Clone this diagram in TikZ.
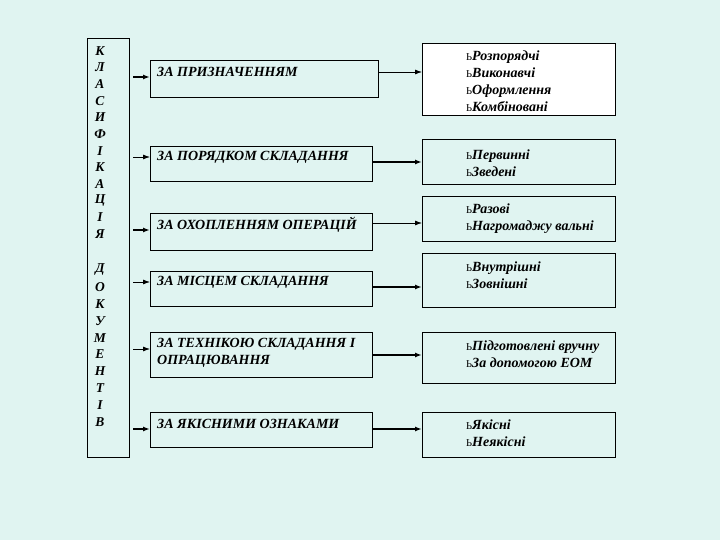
\documentclass[tikz,border=0pt]{standalone}
\usepackage{fontspec}
\setmainfont{Liberation Serif}
\usetikzlibrary{arrows.meta}
\definecolor{bgcol}{HTML}{E0F4F1}
\newcommand{\bul}{{\fontsize{10.5}{10}\selectfont\upshape\mdseries Ь}}
\begin{document}
\begin{tikzpicture}[x=1pt,y=-1pt,
    box/.style={draw, fill=bgcol, line width=.8pt, anchor=north west, inner sep=0pt},
    txt/.style={anchor=west, inner sep=0pt, font=\fontsize{14}{17}\selectfont\bfseries\itshape, align=left},
    letter/.style={inner sep=0pt, font=\fontsize{13.5}{14}\selectfont\bfseries\itshape},
    arr/.style={-{Latex[length=7pt,width=5pt]}, line width=.8pt},
    arrb/.style={-{Latex[length=7pt,width=5pt]}, line width=1.5pt}]
    \fill[bgcol] (0,0) rectangle (720,540);
    \useasboundingbox (0,0) rectangle (720,540);

%   left column
    \node[box, minimum width=42, minimum height=419] (kl) at (87,38) {};
    \foreach \ch [count=\i] in {К,Л,А,С,И,Ф,І,К,А,Ц,І,Я}
        \node[letter] (ka\i) at (100,{51+16.6*(\i-1)}) {\ch};
    \foreach \ch [count=\i] in {Д,О,К,У,М,Е,Н,Т,І,В}
        \node[letter] (do\i) at (100,{270+16.9*(\i-1)}) {\ch};

%   middle boxes
    \node[box, minimum width=228, minimum height=37] (m1) at (150,60) {};
    \node[box, minimum width=222, minimum height=35] (m2) at (150,146) {};
    \node[box, minimum width=222, minimum height=37] (m3) at (150,213) {};
    \node[box, minimum width=222, minimum height=35] (m4) at (150,271) {};
    \node[box, minimum width=222, minimum height=45] (m5) at (150,332) {};
    \node[box, minimum width=222, minimum height=35] (m6) at (150,412) {};

    \node[txt] (t1) at (157,72) {ЗА ПРИЗНАЧЕННЯМ};
    \node[txt] (t2) at (157,157) {ЗА ПОРЯДКОМ СКЛАДАННЯ};
    \node[txt] (t3) at (157,225) {ЗА ОХОПЛЕННЯМ ОПЕРАЦІЙ};
    \node[txt] (t4) at (157,282) {ЗА МІСЦЕМ СКЛАДАННЯ};
    \node[txt] (t5) at (157,352.5) {ЗА ТЕХНІКОЮ СКЛАДАННЯ І\\ОПРАЦЮВАННЯ};
    \node[txt] (t6) at (157,424) {ЗА ЯКІСНИМИ ОЗНАКАМИ};

%   right boxes
    \node[box, fill=white, minimum width=193, minimum height=72] (r1) at (422,43) {};
    \node[box, minimum width=193, minimum height=45] (r2) at (422,139) {};
    \node[box, minimum width=193, minimum height=45] (r3) at (422,196) {};
    \node[box, minimum width=193, minimum height=54] (r4) at (422,253) {};
    \node[box, minimum width=193, minimum height=51] (r5) at (422,332) {};
    \node[box, minimum width=193, minimum height=45] (r6) at (422,412) {};

    \node[txt] (s1) at (466,81) {\bul Розпорядчі\\\bul Виконавчі\\\bul Оформлення\\\bul Комбіновані};
    \node[txt] (s2) at (466,163) {\bul Первинні\\\bul Зведені};
    \node[txt] (s3) at (466,218.5) {\bul Разові\\\bul Нагромаджу вальні};
    \node[txt] (s4) at (466,275) {\bul Внутрішні\\\bul Зовнішні};
    \node[txt] (s5) at (466,354) {\bul Підготовлені вручну\\\bul За допомогою ЕОМ};
    \node[txt] (s6) at (466,433) {\bul Якісні\\\bul Неякісні};

%   arrows
    \coordinate (a1) at (133,77);
    \coordinate (a2) at (133,157);
    \coordinate (a3) at (133,230);
    \coordinate (a4) at (133,282);
    \coordinate (a5) at (133,349);
    \coordinate (a6) at (133,429);
    \draw[arrb] (a1) -- (a1 -| m1.west);
    \draw[arr] (a2) -- (a2 -| m2.west);
    \draw[arrb] (a3) -- (a3 -| m3.west);
    \draw[arr] (a4) -- (a4 -| m4.west);
    \draw[arr] (a5) -- (a5 -| m5.west);
    \draw[arrb] (a6) -- (a6 -| m6.west);

    \coordinate (b1) at (400,72);
    \coordinate (b2) at (400,162);
    \coordinate (b3) at (400,223);
    \coordinate (b4) at (400,287);
    \coordinate (b5) at (400,355);
    \coordinate (b6) at (400,429);
    \draw[arr] (b1 -| m1.east) -- (b1 -| r1.west);
    \draw[arrb] (b2 -| m2.east) -- (b2 -| r2.west);
    \draw[arr] (b3 -| m3.east) -- (b3 -| r3.west);
    \draw[arrb] (b4 -| m4.east) -- (b4 -| r4.west);
    \draw[arrb] (b5 -| m5.east) -- (b5 -| r5.west);
    \draw[arrb] (b6 -| m6.east) -- (b6 -| r6.west);
\end{tikzpicture}
\end{document}
